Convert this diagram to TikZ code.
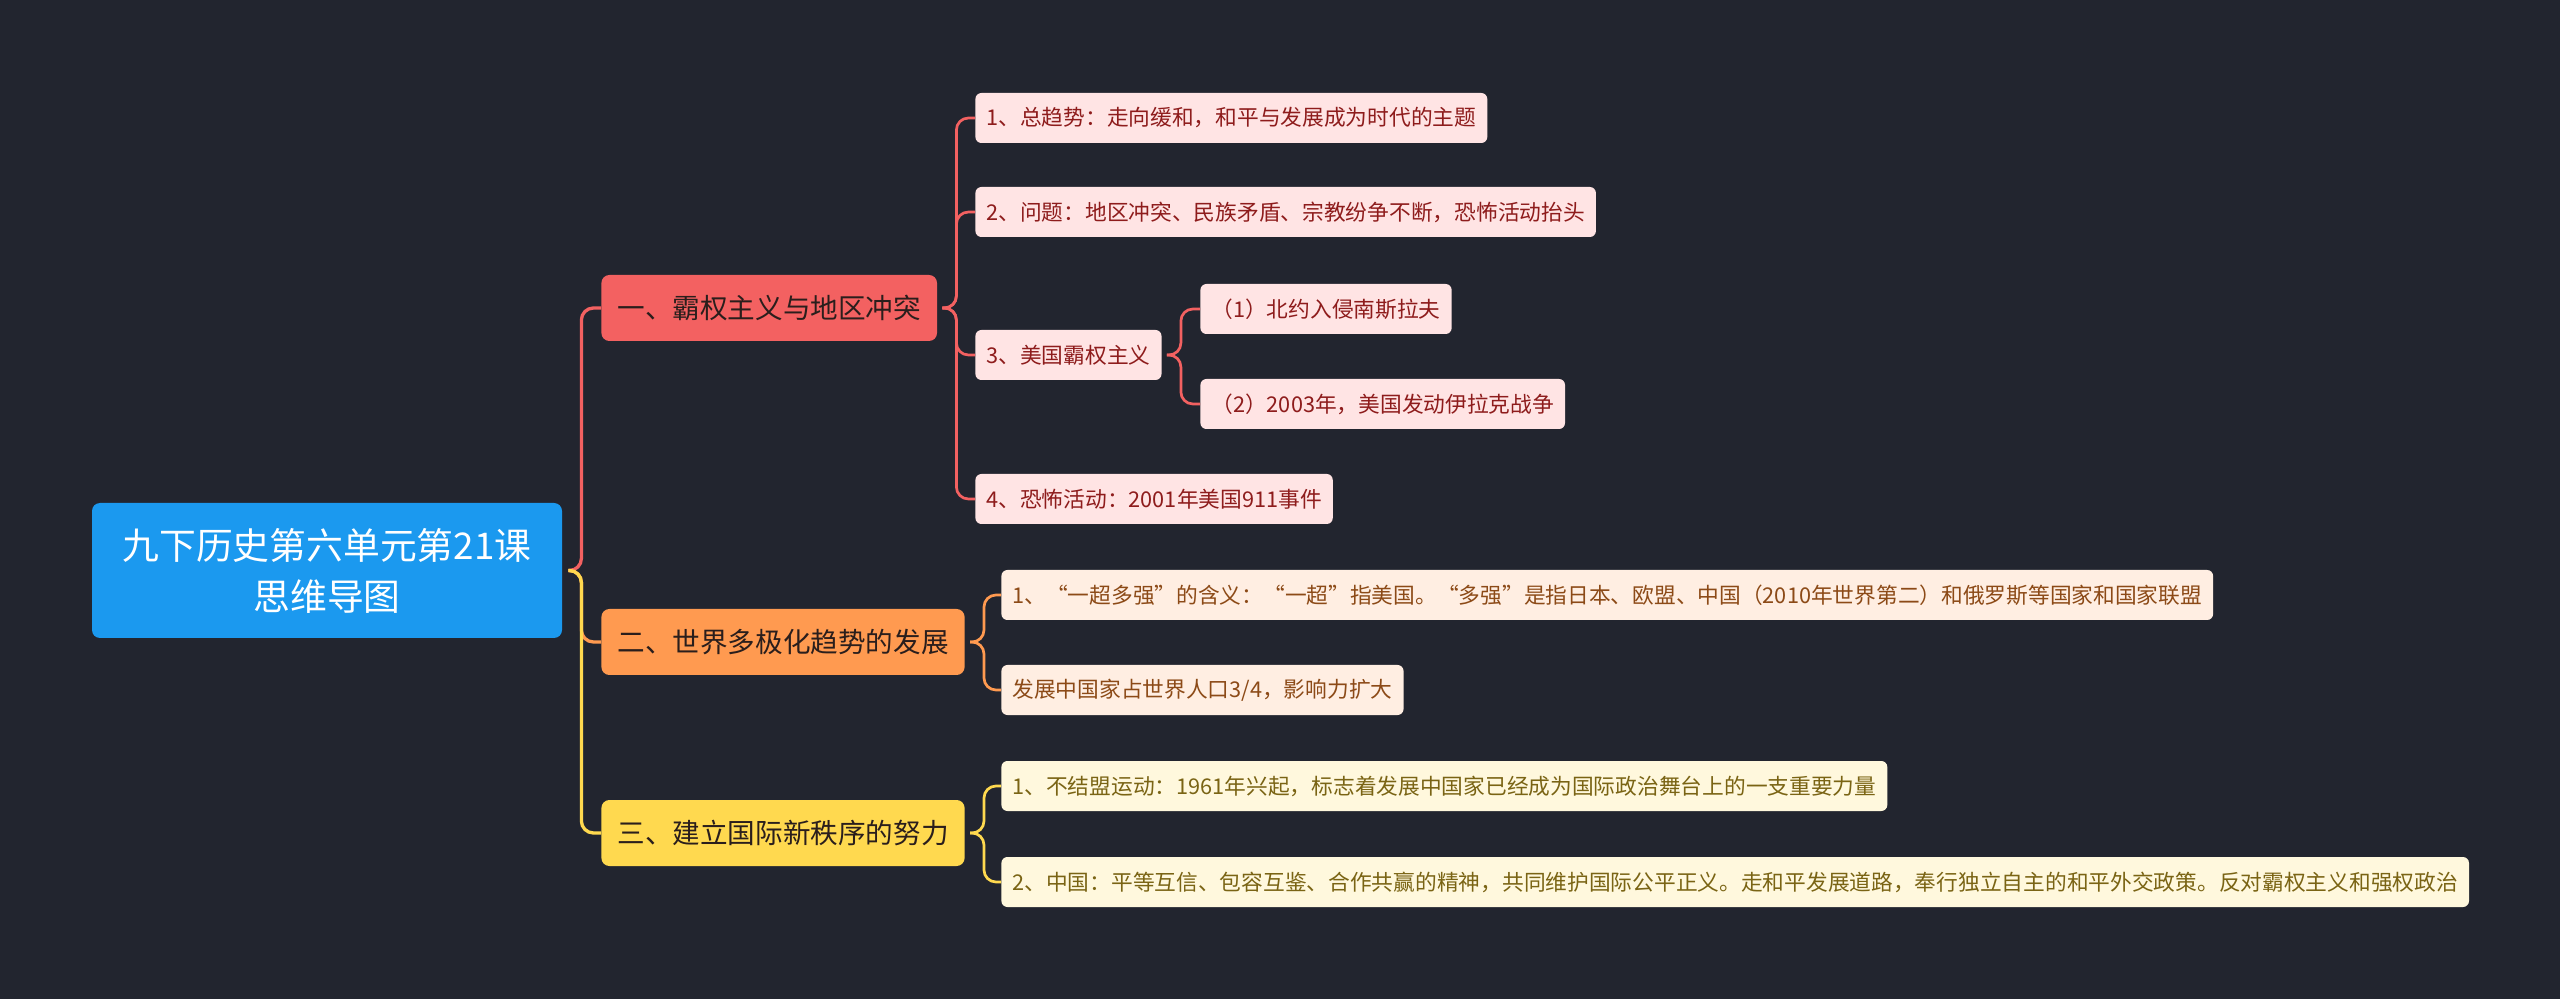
\documentclass[tikz,border=0pt]{standalone}
\usepackage{fontspec}
\setmainfont{Noto Sans CJK SC}
\usepackage{tikz}
\usetikzlibrary{positioning}
\definecolor{bgc}{HTML}{22252F}
\definecolor{rootc}{HTML}{1B99EF}
\definecolor{redc}{HTML}{F36161}
\definecolor{orgc}{HTML}{FF9A50}
\definecolor{ylwc}{HTML}{FFD94F}
\definecolor{topt}{HTML}{2A1E1C}
\definecolor{redl}{HTML}{FFE4E4}
\definecolor{redt}{HTML}{8E1C1C}
\definecolor{orgl}{HTML}{FFEEE2}
\definecolor{orgt}{HTML}{8C4A17}
\definecolor{ylwl}{HTML}{FFF8DD}
\definecolor{ylwt}{HTML}{7A6414}
\tikzset{
  rootbox/.style={fill=rootc, text=white, rounded corners=4pt, align=center, inner sep=0pt, minimum width=235pt, minimum height=67.5pt, font=\fontsize{18.4pt}{25.5pt}\selectfont},
  topbox/.style={rounded corners=4pt, inner xsep=8pt, inner ysep=0pt, minimum height=33pt, text=topt, anchor=west, font=\fontsize{13.8pt}{16pt}\selectfont},
  subbox/.style={rounded corners=3pt, inner xsep=5.5pt, inner ysep=0pt, minimum height=25pt, anchor=west, font=\fontsize{10.86pt}{13pt}\selectfont},
  subA/.style={subbox, fill=redl, text=redt},
  subB/.style={subbox, fill=orgl, text=orgt},
  subC/.style={subbox, fill=ylwl, text=ylwt},
  lnk/.style={line width=1.65pt, rounded corners=6pt},
  sublnk/.style={line width=1.35pt, rounded corners=6pt}
}
\begin{document}
\begin{tikzpicture}[x=0.5pt, y=-0.5pt]
\fill[bgc] (0,0) rectangle (2560,999);
\node[rootbox] (root) at (327,570.5) {九下历史第六单元第21课\\思维导图};
\node[topbox, fill=redc] (a) at (601,308) {一、霸权主义与地区冲突};
\node[topbox, fill=orgc] (b) at (601,642) {二、世界多极化趋势的发展};
\node[topbox, fill=ylwc] (c) at (601,833) {三、建立国际新秩序的努力};
\node[subA] (a1) at (975,118) {1、总趋势：走向缓和，和平与发展成为时代的主题};
\node[subA] (a2) at (975,212) {2、问题：地区冲突、民族矛盾、宗教纷争不断，恐怖活动抬头};
\node[subA] (a3) at (975,355) {3、美国霸权主义};
\node[subA] (a31) at (1200,309) {（1）北约入侵南斯拉夫};
\node[subA] (a32) at (1200,404) {（2）2003年，美国发动伊拉克战争};
\node[subA] (a4) at (975,499) {4、恐怖活动：2001年美国911事件};
\node[subB] (b1) at (1001,595) {1、“一超多强”的含义：“一超”指美国。“多强”是指日本、欧盟、中国（2010年世界第二）和俄罗斯等国家和国家联盟};
\node[subB] (b2) at (1001,690) {发展中国家占世界人口3/4，影响力扩大};
\node[subC] (c1) at (1001,786) {1、不结盟运动：1961年兴起，标志着发展中国家已经成为国际政治舞台上的一支重要力量};
\node[subC] (c2) at (1001,882) {2、中国：平等互信、包容互鉴、合作共赢的精神，共同维护国际公平正义。走和平发展道路，奉行独立自主的和平外交政策。反对霸权主义和强权政治};
\draw[lnk, redc] ([xshift=3pt]root.east) -- ++(6.5pt,0) |- (a.west);
\draw[lnk, orgc] ([xshift=3pt]root.east) -- ++(6.5pt,0) |- (b.west);
\draw[lnk, ylwc] ([xshift=3pt]root.east) -- ++(6.5pt,0) |- (c.west);
\draw[sublnk, redc] ([xshift=2.5pt]a.east) -- ++(7pt,0) |- (a1.west);
\draw[sublnk, redc] ([xshift=2.5pt]a.east) -- ++(7pt,0) |- (a2.west);
\draw[sublnk, redc] ([xshift=2.5pt]a.east) -- ++(7pt,0) |- (a3.west);
\draw[sublnk, redc] ([xshift=2.5pt]a.east) -- ++(7pt,0) |- (a4.west);
\draw[sublnk, redc] ([xshift=2.5pt]a3.east) -- ++(7pt,0) |- (a31.west);
\draw[sublnk, redc] ([xshift=2.5pt]a3.east) -- ++(7pt,0) |- (a32.west);
\draw[sublnk, orgc] ([xshift=2.5pt]b.east) -- ++(7pt,0) |- (b1.west);
\draw[sublnk, orgc] ([xshift=2.5pt]b.east) -- ++(7pt,0) |- (b2.west);
\draw[sublnk, ylwc] ([xshift=2.5pt]c.east) -- ++(7pt,0) |- (c1.west);
\draw[sublnk, ylwc] ([xshift=2.5pt]c.east) -- ++(7pt,0) |- (c2.west);
\end{tikzpicture}
\end{document}
